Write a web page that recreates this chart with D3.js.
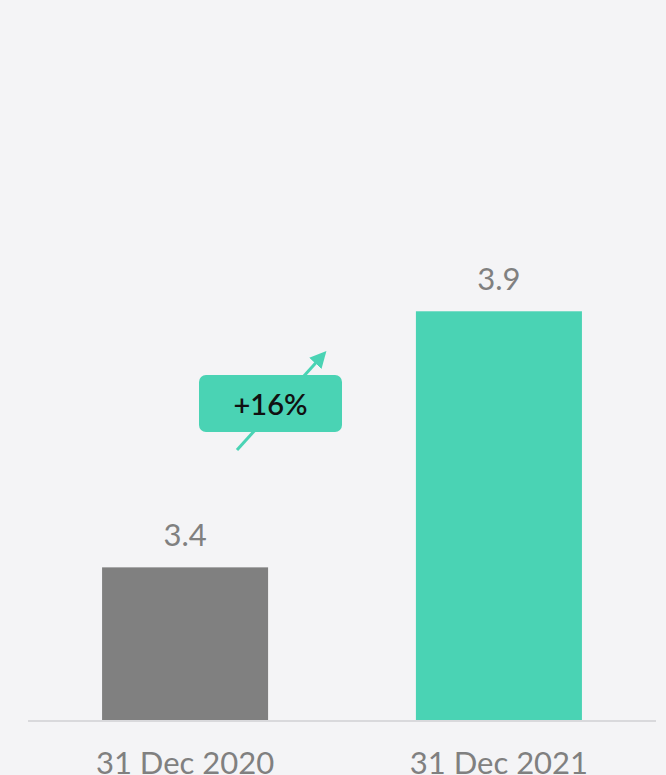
<!DOCTYPE html>
<html>
<head>
<meta charset="utf-8">
<script src="https://cdn.jsdelivr.net/npm/d3@7"></script>
<style>
  html, body { margin: 0; padding: 0; background: #f4f4f6; }
  svg { display: block; }
</style>
</head>
<body>
<svg id="chart" width="666" height="775"></svg>
<script>
// Period-end values
const categories = ["31 Dec 2020", "31 Dec 2021"];
const values = [3.4, 3.9];
const valueLabels = ["3.4", "3.9"];
const barColors = ["#808080", "#4ad3b4"];
const changeLabel = "+16%";

const W = 666, H = 775;
const svg = d3.select("#chart");

svg.append("rect").attr("width", W).attr("height", H).attr("fill", "#f4f4f6");

const x = d3.scaleBand()
  .domain(categories)
  .range([28, 656])
  .paddingInner(0.471)
  .paddingOuter(0.236);

const y = d3.scaleLinear()
  .domain([3.1, 4.5])
  .range([721, 4]);

// Bars
svg.selectAll("rect.bar")
  .data(values)
  .join("rect")
  .attr("class", "bar")
  .attr("x", (d, i) => x(categories[i]))
  .attr("width", x.bandwidth())
  .attr("y", d => y(d))
  .attr("height", d => y.range()[0] - y(d))
  .attr("fill", (d, i) => barColors[i]);

// Baseline
svg.append("line")
  .attr("x1", x.range()[0]).attr("x2", x.range()[1])
  .attr("y1", y.range()[0]).attr("y2", y.range()[0])
  .attr("stroke", "#d9d9dc").attr("stroke-width", 2);

// Value labels
svg.selectAll("text.val")
  .data(values)
  .join("text")
  .attr("class", "val")
  .attr("x", (d, i) => x(categories[i]) + x.bandwidth() / 2)
  .attr("y", d => y(d) - 21)
  .attr("text-anchor", "middle")
  .attr("font-family", "Lato, sans-serif")
  .attr("font-size", 31)
  .attr("fill", "#808080")
  .text((d, i) => valueLabels[i]);

// Category axis labels
const xAxis = svg.append("g")
  .attr("transform", `translate(0,${y.range()[0]})`)
  .call(d3.axisBottom(x).tickSize(0).tickPadding(0));
xAxis.select(".domain").remove();
xAxis.selectAll("text")
  .attr("dy", null)
  .attr("y", 53)
  .attr("font-family", "Lato, sans-serif")
  .attr("font-size", 31)
  .attr("fill", "#808080");

// Growth arrow between the two bars
const defs = svg.append("defs");
defs.append("marker")
  .attr("id", "arrowhead")
  .attr("viewBox", "0 0 10 10")
  .attr("refX", 6).attr("refY", 5)
  .attr("markerWidth", 5.5).attr("markerHeight", 5.5)
  .attr("markerUnits", "strokeWidth")
  .attr("orient", "auto")
  .append("path")
  .attr("d", "M0,0 L10,5 L0,10 z")
  .attr("fill", "#4ad3b4");

const ax1 = 237, ay1 = 450, ax2 = 322, ay2 = 356;
svg.append("line")
  .attr("x1", ax1).attr("y1", ay1)
  .attr("x2", ax2).attr("y2", ay2)
  .attr("stroke", "#4ad3b4")
  .attr("stroke-width", 3)
  .attr("marker-end", "url(#arrowhead)");

// Change badge
const badge = svg.append("g").attr("transform", "translate(199,375)");
badge.append("rect")
  .attr("width", 143).attr("height", 57)
  .attr("rx", 7).attr("ry", 7)
  .attr("fill", "#4ad3b4");
badge.append("text")
  .attr("x", 71.5).attr("y", 40)
  .attr("text-anchor", "middle")
  .attr("font-family", "Lato, sans-serif")
  .attr("font-weight", 600)
  .attr("font-size", 29)
  .attr("fill", "#111")
  .text(changeLabel);
</script>
</body>
</html>
